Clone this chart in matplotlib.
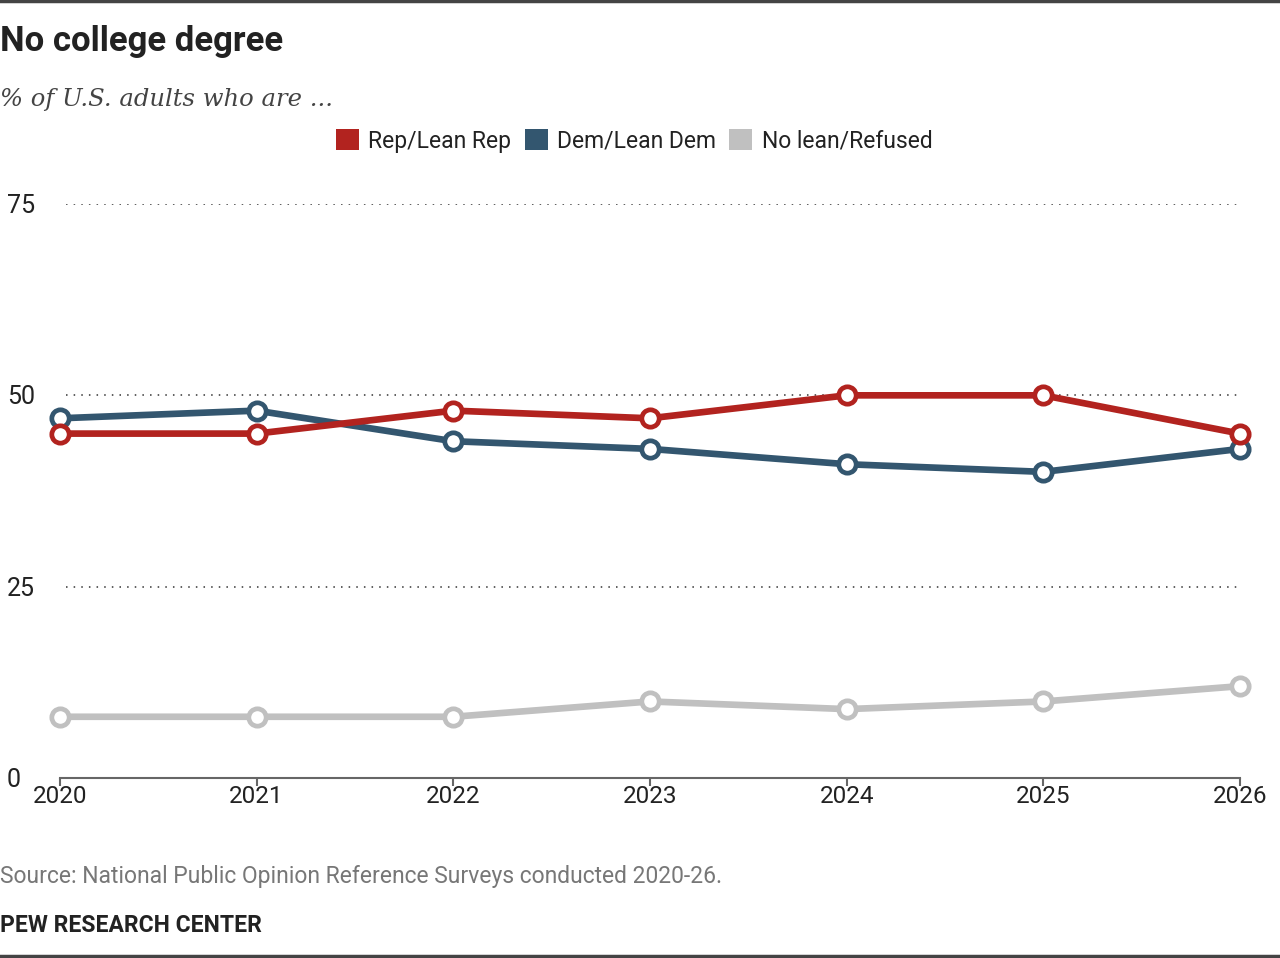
import matplotlib
matplotlib.use('Agg')
import matplotlib.pyplot as plt
from matplotlib.patches import Patch
from matplotlib.lines import Line2D

# Данные
years = [2020, 2021, 2022, 2023, 2024, 2025, 2026]
rep = [45, 45, 48, 47, 50, 50, 45]
dem = [47, 48, 44, 43, 41, 40, 43]
no_lean = [8, 8, 8, 10, 9, 10, 12]

labels = ['Rep/Lean Rep', 'Dem/Lean Dem', 'No lean/Refused']
colors = ['#B2231F', '#33566F', '#C0C0C0']
y_ticks = [0, 25, 50, 75]

plt.rcParams['font.family'] = ['Roboto', 'DejaVu Sans']

fig = plt.figure(figsize=(12.8, 9.58), dpi=100)
ax = fig.add_axes([60 / 1280, 180 / 958, 1180 / 1280, 574 / 958])

# Линии (серую рисуем первой, чтобы она была снизу)
for series, color, z in [(no_lean, colors[2], 3), (dem, colors[1], 4), (rep, colors[0], 5)]:
    ax.plot(years, series, color=color, lw=4.8, marker='o', markersize=12.5,
            markerfacecolor='white', markeredgecolor=color, markeredgewidth=3.4,
            clip_on=False, zorder=z, solid_capstyle='round')

ax.set_xlim(2020, 2026)
ax.set_ylim(0, 75)

# Сетка
for t in y_ticks[1:]:
    ax.plot([2020.03, 2026], [t, t], color='#333333', lw=1.1, ls=(0, (1, 4)), zorder=1)

for s in ['top', 'right', 'left']:
    ax.spines[s].set_visible(False)
ax.spines['bottom'].set_color('#666666')
ax.spines['bottom'].set_linewidth(1.5)

ax.set_xticks(years)
ax.set_xticklabels([str(y) for y in years])
ax.tick_params(axis='x', length=6, width=1.5, color='#666666', labelsize=17.5,
               labelcolor='#222222', pad=-1)
ax.set_yticks(y_ticks)
ax.set_yticklabels([])
ax.tick_params(axis='y', length=0)
for t in y_ticks:
    yy = ax.transData.transform((2020, t))[1]
    fig.text(7 / 1280, (yy - 2) / 958, str(t), fontsize=18,
             color='#222222', ha='left', va='center', transform=fig.transFigure)

# Рамка сверху и снизу
fig.add_artist(Line2D([0, 1], [1 - 1 / 958, 1 - 1 / 958], color='#444444', lw=2.5))
fig.add_artist(Line2D([0, 1], [2 / 958, 2 / 958], color='#444444', lw=2.5))

# Заголовки
fig.text(0, 1 - 42 / 958, 'No college degree', fontsize=25, fontweight='bold',
         color='#222222', va='center', ha='left')
fig.text(0, 1 - 99 / 958, '% of U.S. adults who are ...', fontsize=17.5, style='italic',
         family=['DejaVu Serif'], color='#444444', va='center', ha='left')

# Легенда
handles = [Patch(facecolor=c, edgecolor='none') for c in colors]
fig.legend(handles, labels, loc='center', bbox_to_anchor=(634 / 1280, 1 - 141 / 958),
           ncol=3, frameon=False, fontsize=16.5, handlelength=1.0, handleheight=1.0,
           handletextpad=0.4, columnspacing=0.6, labelcolor='#222222')

# Источник
fig.text(0, 1 - 877 / 958, 'Source: National Public Opinion Reference Surveys conducted 2020-26.',
         fontsize=16.5, color='#777777', va='center', ha='left')
fig.text(0, 1 - 925 / 958, 'PEW RESEARCH CENTER', fontsize=16.5, fontweight='bold',
         color='#222222', va='center', ha='left')

fig.savefig('out.png', dpi=100)
plt.close(fig)
